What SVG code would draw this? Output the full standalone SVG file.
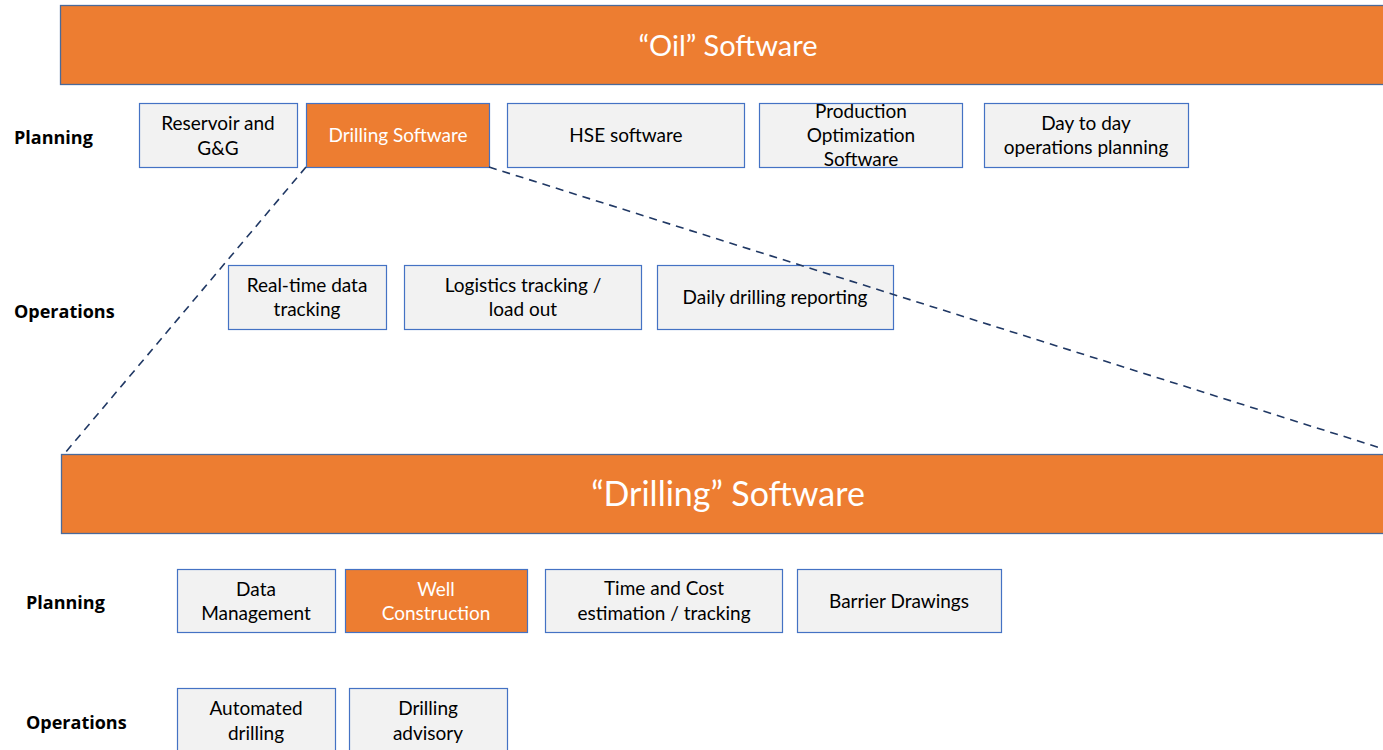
<svg xmlns="http://www.w3.org/2000/svg" width="1383" height="750" viewBox="0 0 1383 750">
<style>
.bar{fill:#ED7D31;stroke:#4A6A9A;stroke-width:1.3}
.box{fill:#F2F2F2;stroke:#4472C4;stroke-width:1.2}
.obox{fill:#ED7D31;stroke:#4472C4;stroke-width:1.2}
.t{font-family:Lato,"Open Sans",sans-serif;font-size:19px;fill:#000;text-anchor:middle}
.w{fill:#fff}
.lbl{font-family:"Open Sans",Lato,sans-serif;font-size:18px;font-weight:bold;fill:#000}
.big{font-family:Lato,"Open Sans",sans-serif;fill:#fff;text-anchor:middle}
.dash{stroke:#203864;stroke-width:1.6;stroke-dasharray:8,6;fill:none}
</style>
<rect width="1383" height="750" fill="#fff"/>
<g id="oil-bar"><rect class="bar" x="60.5" y="5.5" width="1340" height="79"/><text class="big" x="728" y="56" font-size="29">“Oil” Software</text></g>
<g id="lbl-planning1"><text class="lbl" x="14" y="144">Planning</text></g>
<g id="n-reservoir"><rect class="box" x="139.5" y="103.5" width="158" height="64"/><text class="t" x="218" y="130">Reservoir and</text><text class="t" x="218" y="155">G&amp;G</text></g>
<g id="n-drilling"><rect class="obox" x="306.5" y="103.5" width="183" height="64"/><text class="t w" x="398" y="142">Drilling Software</text></g>
<g id="n-hse"><rect class="box" x="507.5" y="103.5" width="237" height="64"/><text class="t" x="626" y="142">HSE software</text></g>
<g id="n-prod"><rect class="box" x="759.5" y="103.5" width="203" height="64"/><text class="t" x="861" y="118">Production</text><text class="t" x="861" y="142">Optimization</text><text class="t" x="861" y="166">Software</text></g>
<g id="n-day"><rect class="box" x="984.5" y="103.5" width="204" height="64"/><text class="t" x="1086" y="130">Day to day</text><text class="t" x="1086" y="154">operations planning</text></g>
<g id="lbl-ops1"><text class="lbl" x="14" y="318">Operations</text></g>
<g id="n-realtime"><rect class="box" x="228.5" y="265.5" width="158" height="64"/><text class="t" x="307" y="292">Real-time data</text><text class="t" x="307" y="316">tracking</text></g>
<g id="n-logistics"><rect class="box" x="404.5" y="265.5" width="237" height="64"/><text class="t" x="523" y="292">Logistics tracking /</text><text class="t" x="523" y="316">load out</text></g>
<g id="n-daily"><rect class="box" x="657.5" y="265.5" width="236" height="64"/><text class="t" x="775" y="304">Daily drilling reporting</text></g>
<g id="drilling-bar"><rect class="bar" x="61.5" y="454.5" width="1340" height="79"/><text class="big" x="728" y="506" font-size="34">“Drilling” Software</text></g>
<g id="lbl-planning2"><text class="lbl" x="26" y="609">Planning</text></g>
<g id="n-data"><rect class="box" x="177.5" y="569.5" width="158" height="63"/><text class="t" x="256" y="596">Data</text><text class="t" x="256" y="620">Management</text></g>
<g id="n-well"><rect class="obox" x="345.5" y="569.5" width="182" height="63"/><text class="t w" x="436" y="596">Well</text><text class="t w" x="436" y="620">Construction</text></g>
<g id="n-time"><rect class="box" x="545.5" y="569.5" width="237" height="63"/><text class="t" x="664" y="595">Time and Cost</text><text class="t" x="664" y="620">estimation / tracking</text></g>
<g id="n-barrier"><rect class="box" x="797.5" y="569.5" width="204" height="63"/><text class="t" x="899" y="608">Barrier Drawings</text></g>
<g id="lbl-ops2"><text class="lbl" x="26" y="729">Operations</text></g>
<g id="n-auto"><rect class="box" x="177.5" y="688.5" width="158" height="70"/><text class="t" x="256" y="715">Automated</text><text class="t" x="256" y="740">drilling</text></g>
<g id="n-advisory"><rect class="box" x="349.5" y="688.5" width="158" height="70"/><text class="t" x="428" y="715">Drilling</text><text class="t" x="428" y="740">advisory</text></g>
<g id="connectors">
<line class="dash" x1="306" y1="167" x2="65" y2="453"/>
<line class="dash" x1="489" y1="167" x2="1390" y2="451"/>
</g>
</svg>
